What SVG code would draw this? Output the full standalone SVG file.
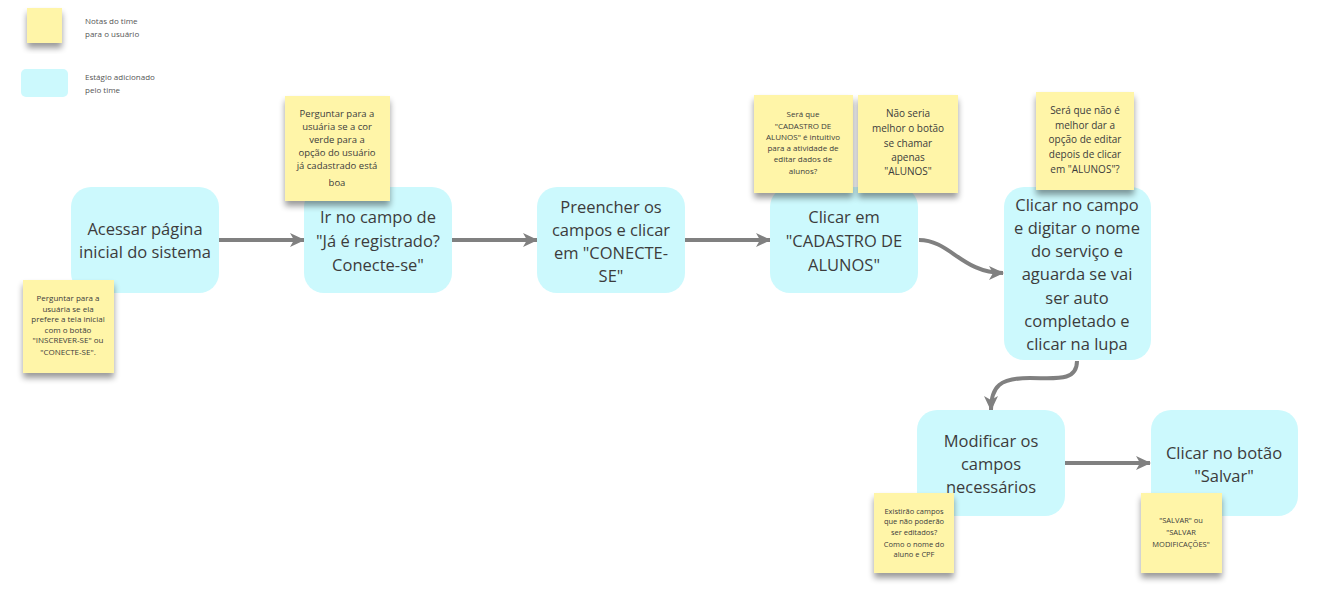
<svg xmlns="http://www.w3.org/2000/svg" width="1327" height="603" viewBox="0 0 1327 603">
<style>
.node{fill:#ccf9fd;}
.nt{font-family:"Open Sans","Noto Sans",sans-serif;font-size:16.5px;fill:#3c3c3c;text-anchor:middle;}
.note{fill:#fff5a8;filter:url(#sh);}
.st{font-family:"Open Sans","Noto Sans",sans-serif;fill:#3c3c3c;text-anchor:middle;}
.lg{font-family:"Open Sans","Noto Sans",sans-serif;font-size:8px;fill:#555;}
.conn{fill:none;stroke:#808080;stroke-width:4;marker-end:url(#ah);}
</style>
<defs>
<marker id="ah" markerUnits="userSpaceOnUse" markerWidth="16" markerHeight="16" viewBox="0 0 16 16" refX="14" refY="8" orient="auto">
<path d="M0,1 L15,8 L0,15 L4,8 Z" fill="#808080"/>
</marker>
<filter id="sh" x="-20%" y="-20%" width="140%" height="150%">
<feGaussianBlur in="SourceAlpha" stdDeviation="3"/>
<feOffset dx="0" dy="5" result="b"/>
<feComponentTransfer><feFuncA type="linear" slope="0.4"/></feComponentTransfer>
<feMerge><feMergeNode/><feMergeNode in="SourceGraphic"/></feMerge>
</filter>
</defs>
<rect width="1327" height="603" fill="#ffffff"/>

<g id="legend">
<rect class="note" x="27" y="8" width="35" height="35"/>
<text class="lg" x="85" y="24">Notas do time</text>
<text class="lg" x="85" y="37">para o usuário</text>
<rect class="node" x="21" y="69" width="47" height="28" rx="5"/>
<text class="lg" x="85" y="80">Estágio adicionado</text>
<text class="lg" x="85" y="93">pelo time</text>
</g>

<g id="connectors">
<path class="conn" d="M219,240 L304,240"/>
<path class="conn" d="M452,240 L537,240"/>
<path class="conn" d="M685,240 L770,240"/>
<path class="conn" d="M919,240 C950,240 962,273 1003,273"/>
<path class="conn" d="M1077,361 C1077,382 1055,378 1030,378 C1000,378 991,386 991,410"/>
<path class="conn" d="M1065,463 L1150,463"/>
</g>

<g id="n1">
<rect class="node" x="71" y="187" width="148" height="106" rx="20"/>
<text class="nt" x="145" y="235">Acessar página</text>
<text class="nt" x="145" y="258">inicial do sistema</text>
</g>
<g id="n2">
<rect class="node" x="304" y="187" width="148" height="106" rx="20"/>
<text class="nt" x="378" y="223">Ir no campo de</text>
<text class="nt" x="378" y="247">"Já é registrado?</text>
<text class="nt" x="378" y="271">Conecte-se"</text>
</g>
<g id="n3">
<rect class="node" x="537" y="187" width="148" height="106" rx="20"/>
<text class="nt" x="611" y="213">Preencher os</text>
<text class="nt" x="611" y="236">campos e clicar</text>
<text class="nt" x="611" y="259">em "CONECTE-</text>
<text class="nt" x="611" y="282">SE"</text>
</g>
<g id="n4">
<rect class="node" x="770" y="187" width="148" height="106" rx="20"/>
<text class="nt" x="844" y="223">Clicar em</text>
<text class="nt" x="844" y="247">"CADASTRO DE</text>
<text class="nt" x="844" y="271">ALUNOS"</text>
</g>
<g id="n5">
<rect class="node" x="1004" y="187" width="147" height="173" rx="20"/>
<text class="nt" x="1077" y="211">Clicar no campo</text>
<text class="nt" x="1077" y="234">e digitar o nome</text>
<text class="nt" x="1077" y="257">do serviço e</text>
<text class="nt" x="1077" y="280">aguarda se vai</text>
<text class="nt" x="1077" y="304">ser auto</text>
<text class="nt" x="1077" y="327">completado e</text>
<text class="nt" x="1077" y="350">clicar na lupa</text>
</g>
<g id="n6">
<rect class="node" x="917" y="410" width="148" height="106" rx="20"/>
<text class="nt" x="991" y="447">Modificar os</text>
<text class="nt" x="991" y="470">campos</text>
<text class="nt" x="991" y="493">necessários</text>
</g>
<g id="n7">
<rect class="node" x="1151" y="410" width="147" height="106" rx="20"/>
<text class="nt" x="1224" y="459">Clicar no botão</text>
<text class="nt" x="1224" y="482">"Salvar"</text>
</g>

<g id="note1">
<rect class="note" x="23" y="280" width="91" height="93"/>
<text class="st" font-size="8" x="68" y="301">Perguntar para a</text>
<text class="st" font-size="8" x="68" y="312">usuária se ela</text>
<text class="st" font-size="8" x="68" y="322">prefere a tela inicial</text>
<text class="st" font-size="8" x="68" y="333">com o botão</text>
<text class="st" font-size="8" x="68" y="343">"INSCREVER-SE" ou</text>
<text class="st" font-size="8" x="68" y="355">"CONECTE-SE".</text>
</g>
<g id="note2">
<rect class="note" x="285" y="96" width="105" height="105"/>
<text class="st" font-size="9.5" x="337" y="117">Perguntar para a</text>
<text class="st" font-size="9.5" x="337" y="130">usuária se a cor</text>
<text class="st" font-size="9.5" x="337" y="143">verde para a</text>
<text class="st" font-size="9.5" x="337" y="156">opção do usuário</text>
<text class="st" font-size="9.5" x="337" y="169">já cadastrado está</text>
<text class="st" font-size="9.5" x="337" y="186">boa</text>
</g>
<g id="note3">
<rect class="note" x="754" y="95" width="99" height="98"/>
<text class="st" font-size="8" x="803" y="117">Será que</text>
<text class="st" font-size="8" x="803" y="129">"CADASTRO DE</text>
<text class="st" font-size="8" x="803" y="140">ALUNOS" é intuitivo</text>
<text class="st" font-size="8" x="803" y="151">para a atividade de</text>
<text class="st" font-size="8" x="803" y="162">editar dados de</text>
<text class="st" font-size="8" x="803" y="174">alunos?</text>
</g>
<g id="note4">
<rect class="note" x="858" y="95" width="100" height="98"/>
<text class="st" font-size="10" x="908" y="117">Não seria</text>
<text class="st" font-size="10" x="908" y="132">melhor o botão</text>
<text class="st" font-size="10" x="908" y="147">se chamar</text>
<text class="st" font-size="10" x="908" y="161">apenas</text>
<text class="st" font-size="10" x="908" y="175">"ALUNOS"</text>
</g>
<g id="note5">
<rect class="note" x="1036" y="92" width="98" height="98"/>
<text class="st" font-size="10" x="1085" y="114">Será que não é</text>
<text class="st" font-size="10" x="1085" y="129">melhor dar a</text>
<text class="st" font-size="10" x="1085" y="143">opção de editar</text>
<text class="st" font-size="10" x="1085" y="158">depois de clicar</text>
<text class="st" font-size="10" x="1085" y="173">em "ALUNOS"?</text>
</g>
<g id="note6">
<rect class="note" x="874" y="493" width="80" height="80"/>
<text class="st" font-size="7.5" x="914" y="514">Existirão campos</text>
<text class="st" font-size="7.5" x="914" y="524">que não poderão</text>
<text class="st" font-size="7.5" x="914" y="535">ser editados?</text>
<text class="st" font-size="7.5" x="914" y="547">Como o nome do</text>
<text class="st" font-size="7.5" x="914" y="557">aluno e CPF</text>
</g>
<g id="note7">
<rect class="note" x="1141" y="493" width="81" height="80"/>
<text class="st" font-size="7.5" x="1181" y="523">"SALVAR" ou</text>
<text class="st" font-size="7.5" x="1181" y="535">"SALVAR</text>
<text class="st" font-size="7.5" x="1181" y="547">MODIFICAÇÕES"</text>
</g>
</svg>
